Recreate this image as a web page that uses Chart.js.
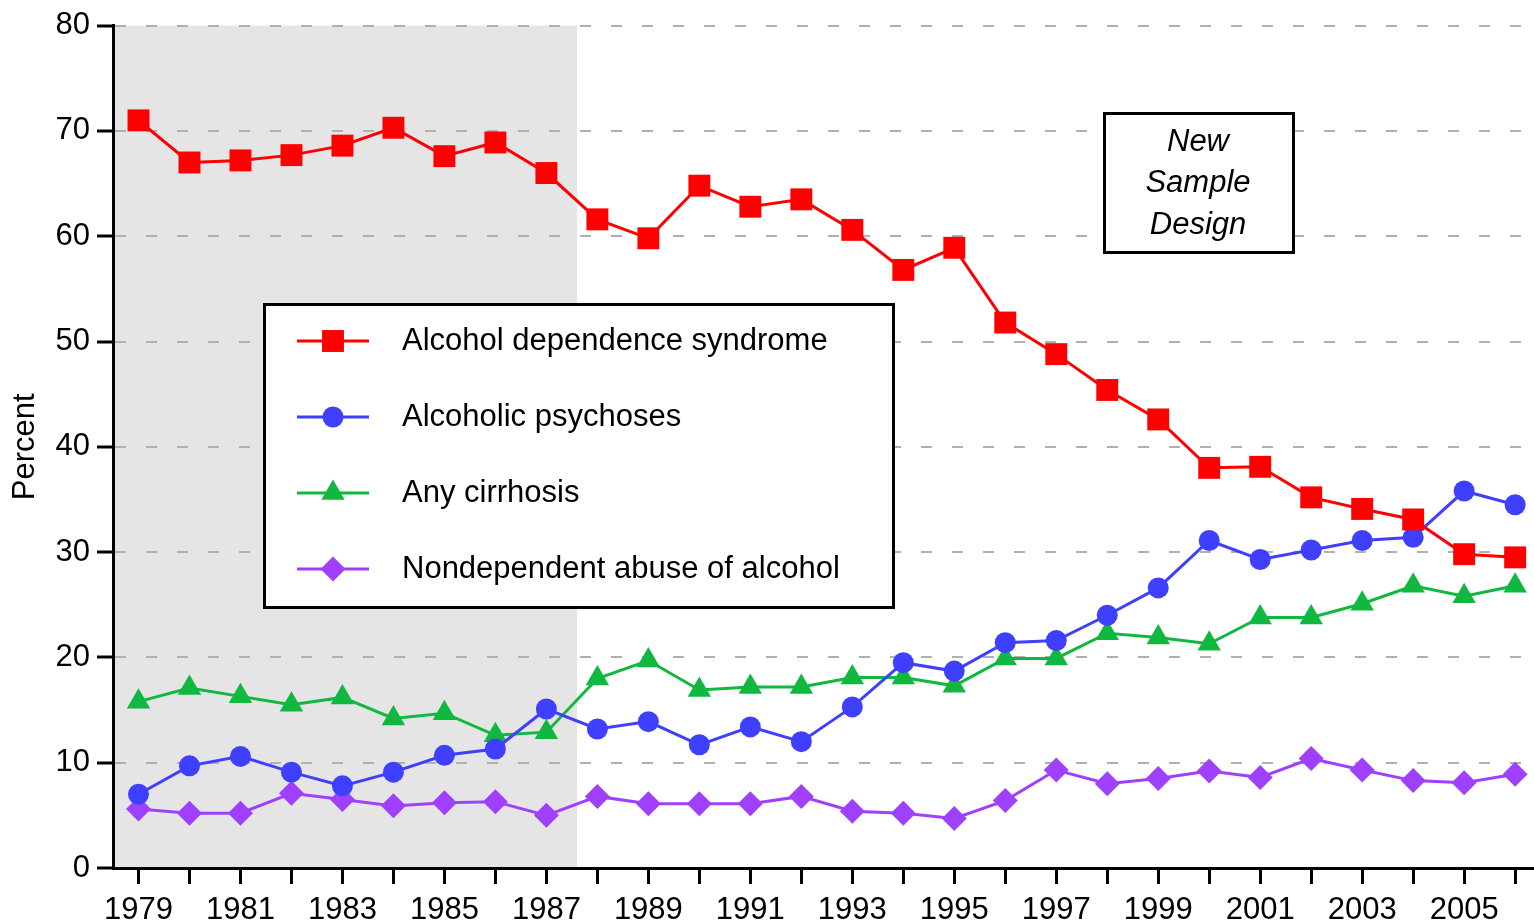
<!DOCTYPE html>
<html>
<head>
<meta charset="utf-8">
<style>
  html, body { margin: 0; padding: 0; background: #fff; overflow: hidden; }
  #wrap { width: 1534px; height: 924px; }
  canvas { display: block; }
</style>
<script src="https://cdn.jsdelivr.net/npm/chart.js@4/dist/chart.umd.min.js"></script>
</head>
<body>
<div id="wrap"><canvas id="chart" width="1534" height="924"></canvas></div>
<script>
// years on the x axis
const years = [1979, 1980, 1981, 1982, 1983, 1984, 1985, 1986, 1987, 1988, 1989, 1990, 1991, 1992,
               1993, 1994, 1995, 1996, 1997, 1998, 1999, 2000, 2001, 2002, 2003, 2004, 2005, 2006];

// percent values
const dependence = [71.0, 67.0, 67.2, 67.7, 68.6, 70.3, 67.6, 68.9, 66.0, 61.6, 59.8, 64.8, 62.8, 63.5,
                    60.6, 56.8, 58.9, 51.8, 48.8, 45.4, 42.6, 38.0, 38.1, 35.2, 34.1, 33.1, 29.8, 29.5];
const psychoses  = [7.0, 9.7, 10.6, 9.1, 7.8, 9.1, 10.7, 11.3, 15.1, 13.2, 13.9, 11.7, 13.4, 12.0,
                    15.3, 19.5, 18.7, 21.4, 21.6, 24.0, 26.6, 31.1, 29.3, 30.2, 31.1, 31.4, 35.8, 34.5];
const cirrhosis  = [15.8, 17.1, 16.3, 15.5, 16.2, 14.2, 14.7, 12.6, 12.9, 18.0, 19.7, 16.9, 17.2, 17.2,
                    18.1, 18.1, 17.3, 19.9, 19.9, 22.3, 21.9, 21.3, 23.8, 23.8, 25.1, 26.8, 25.8, 26.8];
const abuse      = [5.6, 5.2, 5.2, 7.1, 6.5, 5.9, 6.2, 6.3, 5.0, 6.8, 6.1, 6.1, 6.1, 6.8,
                    5.4, 5.2, 4.7, 6.4, 9.3, 8.0, 8.5, 9.2, 8.6, 10.4, 9.3, 8.3, 8.1, 8.9];

const seriesNames = ['Alcohol dependence syndrome', 'Alcoholic psychoses', 'Any cirrhosis',
                     'Nondependent abuse of alcohol'];
const yTicks = [0, 10, 20, 30, 40, 50, 60, 70, 80];
const shadeEnd = 1987.6;   // old sample design period ends here
const boxLines = ['New', 'Sample', 'Design'];

const FONT = "'Liberation Sans', Arial, Helvetica, sans-serif";
const FS = 31;
Chart.defaults.font.family = FONT;
Chart.defaults.font.size = FS;
Chart.defaults.color = '#000';

function series(label, values, color, style, radius) {
    return {
        label: label,
        data: years.map((yr, i) => ({ x: yr, y: values[i] })),
        borderColor: color,
        backgroundColor: color,
        borderWidth: 3,
        pointStyle: style,
        pointRadius: radius,
        pointHoverRadius: radius,
        pointBorderWidth: 0,
        pointBackgroundColor: color,
        tension: 0,
        clip: false
    };
}

// grey band + white background, drawn under the grid
const shading = {
    id: 'shading',
    beforeDraw(chart) {
        const { ctx, scales: { x, y } } = chart;
        ctx.save();
        ctx.fillStyle = '#fff';
        ctx.fillRect(0, 0, chart.width, chart.height);
        const x1 = x.left;
        const x2 = x.getPixelForValue(shadeEnd);
        const y1 = y.getPixelForValue(80);
        const y2 = y.getPixelForValue(0);
        ctx.fillStyle = '#e5e5e5';
        ctx.fillRect(x1, y1, x2 - x1, y2 - y1);
        ctx.restore();
    }
};

function marker(ctx, ds, cx, cy) {
    const opts = {
        pointStyle: ds.pointStyle,
        radius: ds.pointRadius,
        rotation: 0,
        borderWidth: 0
    };
    ctx.fillStyle = ds.backgroundColor;
    ctx.strokeStyle = ds.borderColor;
    if (Chart.helpers && Chart.helpers.drawPoint) {
        Chart.helpers.drawPoint(ctx, opts, cx, cy);
    } else {
        ctx.beginPath();
        ctx.arc(cx, cy, ds.pointRadius, 0, Math.PI * 2);
        ctx.fill();
    }
}

// legend box and the "New Sample Design" note
const boxes = {
    id: 'boxes',
    afterDatasetsDraw(chart) {
        const ctx = chart.ctx;
        ctx.save();
        // legend
        ctx.fillStyle = '#fff';
        ctx.fillRect(264, 304, 630, 303);
        ctx.lineWidth = 3;
        ctx.strokeStyle = '#000';
        ctx.strokeRect(264.5, 304.5, 629, 303);
        chart.data.datasets.forEach((ds, i) => {
            const cy = 341 + i * 76;
            ctx.strokeStyle = ds.borderColor;
            ctx.lineWidth = 3;
            ctx.beginPath();
            ctx.moveTo(297, cy);
            ctx.lineTo(369, cy);
            ctx.stroke();
            marker(ctx, ds, 333, cy);
            ctx.fillStyle = '#000';
            ctx.font = FS + 'px ' + FONT;
            ctx.textAlign = 'left';
            ctx.textBaseline = 'middle';
            ctx.fillText(ds.label, 402, cy);
        });
        // note box
        ctx.fillStyle = '#fff';
        ctx.fillRect(1104, 113, 189, 139);
        ctx.strokeStyle = '#000';
        ctx.lineWidth = 3;
        ctx.strokeRect(1104.5, 113.5, 189, 139);
        ctx.fillStyle = '#000';
        ctx.font = 'italic ' + FS + 'px ' + FONT;
        ctx.textAlign = 'center';
        ctx.textBaseline = 'middle';
        boxLines.forEach((t, i) => ctx.fillText(t, 1198, 142 + i * 41.5));
        ctx.restore();
    }
};

new Chart(document.getElementById('chart'), {
    type: 'line',
    data: {
        datasets: [
            series(seriesNames[0], dependence, '#ff0000', 'rect', 15.5),
            series(seriesNames[1], psychoses, '#3f3fff', 'circle', 10.5),
            series(seriesNames[2], cirrhosis, '#10b840', 'triangle', 13.5),
            series(seriesNames[3], abuse, '#a040ff', 'rectRot', 12.5)
        ]
    },
    options: {
        responsive: false,
        animation: false,
        devicePixelRatio: 1,
        layout: { autoPadding: false, padding: { top: 24, right: 0, left: 0, bottom: 0 } },
        plugins: {
            legend: { display: false },
            tooltip: { enabled: false }
        },
        scales: {
            x: {
                type: 'linear',
                min: 1978.5,
                max: 2006.37,
                afterBuildTicks: (scale) => { scale.ticks = years.map(v => ({ value: v })); },
                afterFit: (scale) => {
                    scale.height = 56;
                    scale.paddingLeft = 0;
                    scale.paddingRight = 0;
                },
                ticks: {
                    autoSkip: false,
                    maxRotation: 0,
                    padding: 8,
                    color: '#000',
                    font: { size: FS },
                    callback: (v) => ((v - 1979) % 2 === 0 ? String(v) : '')
                },
                grid: {
                    drawOnChartArea: false,
                    drawTicks: true,
                    tickLength: 16,
                    tickWidth: 3,
                    tickColor: '#000'
                },
                border: { display: true, color: '#000', width: 3, z: 1 }
            },
            y: {
                min: 0,
                max: 80,
                afterBuildTicks: (scale) => { scale.ticks = yTicks.map(v => ({ value: v })); },
                afterFit: (scale) => { scale.width = 113; },
                ticks: { padding: 7, color: '#000', font: { size: FS } },
                grid: {
                    color: '#b0b0b0',
                    lineWidth: 2,
                    drawTicks: true,
                    tickLength: 16,
                    tickWidth: 3,
                    tickColor: '#000'
                },
                border: { display: true, color: '#000', width: 3, dash: [11, 20], z: 1 },
                title: {
                    display: true,
                    text: 'Percent',
                    color: '#000',
                    font: { size: FS },
                    padding: { top: 7, bottom: 0 }
                }
            }
        }
    },
    plugins: [shading, boxes]
});
</script>
</body>
</html>
